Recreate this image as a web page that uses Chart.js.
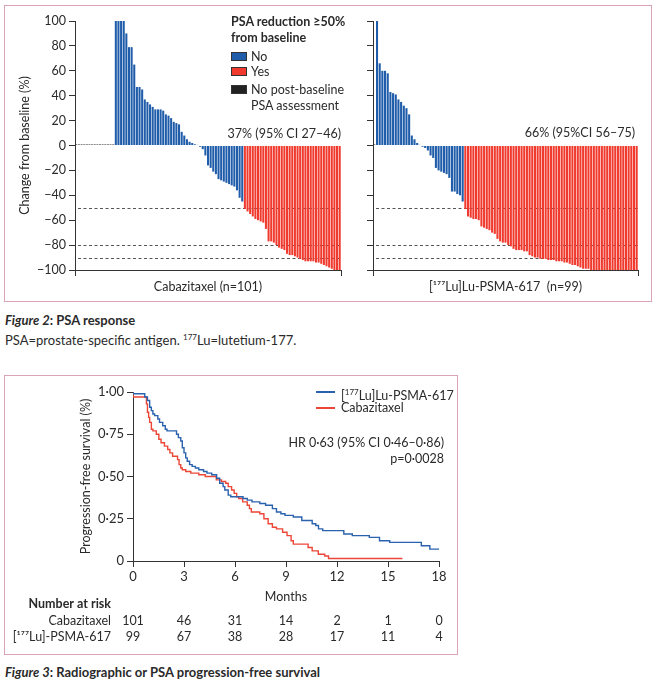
<!DOCTYPE html>
<html>
<head>
<meta charset="utf-8">
<script src="https://cdn.jsdelivr.net/npm/chart.js@4.4.1/dist/chart.umd.min.js"></script>
<style>
  html,body{margin:0;padding:0;background:#fff;}
  body{position:relative;width:658px;height:680px;overflow:hidden;font-family:Lato,"Open Sans",sans-serif;color:#2a2a2a;}
  .box{position:absolute;border:1.5px solid #dba2b8;box-sizing:border-box;}
  .cv{position:absolute;}
  .t{position:absolute;white-space:nowrap;font-size:12.5px;line-height:16px;}
  .b{font-weight:700;}
  .sw{position:absolute;width:16px;height:9px;box-sizing:border-box;border:1px solid #333;}
  .ln{position:absolute;width:19px;height:1.5px;}
  .cap{position:absolute;white-space:nowrap;font-size:13px;line-height:18px;left:5px;}
</style>
</head>
<body>
<!-- ================= DATA ================= -->
<script>
// Figure 2 – waterfall, Cabazitaxel arm (n=101), sorted as plotted
const cabNoAssess = [0.8,0.8,0.8,0.8,0.8,0.8,0.8,0.8,0.8,0.8,0.8,0.8,0.8,0.8,0.8];
const cabNo = [100,100,100,100,90,79,79,65,47,47,45,37,35,33,31,29,29,29,28,25,24,22,19,18,17,11,8,5,3,2,1,0.5,
               -1,-3,-8,-16,-18,-21,-23,-27,-28,-29,-30,-31,-32,-33,-36,-42,-45];
const cabYes = [-51,-53,-55,-57,-59,-60,-61,-62,-67,-77,-77,-78,-80,-82,-83,-84,-87,-88,-88,-89,-90,-91,-92,
                -93,-93,-93,-93,-94,-94,-95,-96,-97,-98,-99,-100,-100,-100];
// Figure 2 – waterfall, [177Lu]Lu-PSMA-617 arm (n=99)
const luNoAssess = [0.8];
const luNo = [100,66,60,60,58,43,42,41,37,35,32,30,25,8,5,2,0.5,
              -1,-2,-4,-8,-10,-18,-20,-21,-22,-23,-26,-37,-37,-39,-40,-45];
const luYes = [-51,-57,-58,-59,-59,-60,-65,-66,-67,-68,-70,-71,-75,-77,-78,-78,-80,-81,-83,-84,-84,-84,-85,-85,
               -88,-89,-90,-90,-91,-91,-91,-92,-92,-92,-93,-93,-93,-94,-94,-95,-96,-96,-97,-98,-99,-99,-99,
               -100,-100,-100,-100,-100,-100,-100,-100,-100,-100,-100,-100,-100,-100,-100,-100,-100,-100];
const thresholdLines = [-50, -80, -90];
const waterfallTicks = [-100,-80,-60,-40,-20,0,20,40,60,80,100];

// Figure 3 – Kaplan-Meier (months, progression-free survival)
const luTime = [0,0.69,0.85,0.98,1.08,1.17,1.27,1.46,1.56,1.75,1.90,2.00,2.56,2.67,2.81,2.90,3.00,3.10,3.19,3.33,3.48,3.67,
                3.87,4.15,4.35,4.63,4.92,5.10,5.30,5.40,5.60,5.75,6.47,6.72,7.00,7.46,7.80,8.20,8.44,8.70,8.94,9.43,9.93,
                10.54,10.75,10.91,11.16,12.40,12.90,13.90,14.50,15.10,16.96,17.46,17.70,18.0];
const luSurv = [1.00,0.99,0.97,0.95,0.91,0.89,0.87,0.86,0.84,0.82,0.80,0.78,0.77,0.75,0.73,0.71,0.67,0.64,0.61,0.59,0.57,0.56,
                0.55,0.54,0.53,0.52,0.51,0.49,0.46,0.44,0.42,0.39,0.38,0.37,0.36,0.35,0.34,0.33,0.31,0.29,0.28,0.27,0.26,
                0.24,0.22,0.21,0.19,0.18,0.16,0.15,0.14,0.12,0.11,0.09,0.07,0.07];
const cabTime = [0,0.79,0.85,0.92,0.98,1.08,1.17,1.37,1.52,1.65,1.85,2.04,2.17,2.33,2.62,2.71,2.81,2.90,3.10,3.40,3.87,4.25,
                 4.90,5.20,5.45,5.60,5.80,5.95,6.10,6.22,6.45,6.72,6.85,6.96,7.46,7.70,7.95,8.20,8.44,8.80,9.06,9.30,9.43,
                 10.30,10.54,10.90,11.28,11.50,12.90,15.85];
const cabSurv = [1.00,0.97,0.93,0.88,0.85,0.82,0.78,0.77,0.75,0.72,0.70,0.68,0.66,0.64,0.62,0.60,0.57,0.55,0.54,0.53,0.52,0.51,
                 0.50,0.48,0.47,0.46,0.44,0.42,0.40,0.38,0.37,0.35,0.33,0.31,0.29,0.28,0.25,0.22,0.20,0.19,0.17,0.15,0.12,
                 0.10,0.08,0.06,0.04,0.03,0.015,0.015];
const riskTimes = [0,3,6,9,12,15,18];
const cabRisk = [101,46,31,14,2,1,0];
const luRisk = [99,67,38,28,17,11,4];
</script>

<div class="box" style="left:4px;top:5px;width:648px;height:297px;"></div>
<canvas id="c1" class="cv" width="343" height="292" style="left:4px;top:5px;"></canvas>
<canvas id="c2" class="cv" width="306" height="292" style="left:345px;top:5px;"></canvas>

<div class="t b" style="left:231px;top:14px;">PSA reduction ≥50%<br>from baseline</div>
<div class="sw" style="left:231px;top:52px;background:#1f5ca9;"></div>
<div class="t" style="left:251px;top:49px;">No</div>
<div class="sw" style="left:231px;top:67px;background:#f03a2e;"></div>
<div class="t" style="left:251px;top:64px;">Yes</div>
<div class="sw" style="left:231px;top:85px;background:#222;"></div>
<div class="t" style="left:251px;top:82px;">No post-baseline<br>PSA assessment</div>
<div class="t" style="right:317px;top:126px;">37% (95% CI 27–46)</div>
<div class="t" style="right:23px;top:125px;">66% (95%CI 56–75)</div>

<div class="cap b" style="top:311px;"><i>Figure 2</i>: PSA response</div>
<div class="cap" style="top:328px;">PSA=prostate-specific antigen. <sup style="font-size:8px">177</sup>Lu=lutetium-177.</div>

<div class="box" style="left:4px;top:375px;width:454px;height:280px;"></div>
<canvas id="c3" class="cv" width="452" height="277" style="left:4px;top:376px;"></canvas>
<div class="ln" style="left:316px;top:391px;background:#2a62ad;"></div>
<div class="t" style="left:341px;top:384px;">[<sup style="font-size:8px">177</sup>Lu]Lu-PSMA-617</div>
<div class="ln" style="left:316px;top:407px;background:#ec4637;"></div>
<div class="t" style="left:341px;top:400px;">Cabazitaxel</div>
<div class="t" style="right:214px;top:435px;">HR 0·63 (95% CI 0·46–0·86)</div>
<div class="t" style="right:214px;top:451px;">p=0·0028</div>

<div class="cap b" style="top:663px;"><i>Figure 3</i>: Radiographic or PSA progression-free survival</div>

<script>
const BLUE = '#1f5ca9', RED = '#f03a2e', BLACK = '#222222';
const TXT = '#2a2a2a', AX = '#333333';
const FONT = {family: 'Lato, "Open Sans", sans-serif', size: 12.5};

function segment(total, offset, vals) {
  const a = new Array(total).fill(null);
  vals.forEach((v, i) => { a[offset + i] = v; });
  return a;
}

const refLines = {
  id: 'refLines',
  beforeDatasetsDraw(chart) {
    const {ctx, chartArea: {left, right}, scales: {y}} = chart;
    ctx.save();
    ctx.setLineDash([3, 2.5]);
    ctx.strokeStyle = '#555';
    ctx.lineWidth = 1;
    thresholdLines.forEach(v => {
      const py = Math.round(y.getPixelForValue(v)) + 0.5;
      ctx.beginPath(); ctx.moveTo(left + 3, py); ctx.lineTo(right, py); ctx.stroke();
    });
    ctx.restore();
  }
};
const endTicks = {
  id: 'endTicks',
  afterDraw(chart) {
    const {ctx, chartArea: {left, right, bottom}} = chart;
    ctx.save();
    ctx.strokeStyle = AX; ctx.lineWidth = 1;
    [left, right].forEach(x => {
      const px = Math.round(x) + 0.5;
      ctx.beginPath(); ctx.moveTo(px, bottom); ctx.lineTo(px, bottom + 6); ctx.stroke();
    });
    ctx.restore();
  }
};

function waterfall(id, noAssess, no, yes, xTitle, showLabels, yWidth, padRight) {
  const n = noAssess.length + no.length + yes.length;
  const labels = Array.from({length: n}, (_, i) => i + 1);
  return new Chart(document.getElementById(id), {
    type: 'bar',
    data: {
      labels,
      datasets: [
        {label: 'No', data: segment(n, noAssess.length, no), backgroundColor: BLUE},
        {label: 'Yes', data: segment(n, noAssess.length + no.length, yes), backgroundColor: RED},
        {label: 'No post-baseline PSA assessment', data: segment(n, 0, noAssess), backgroundColor: BLACK}
      ]
    },
    options: {
      responsive: false, animation: false,
      layout: {padding: {top: 16, right: padRight, left: 0, bottom: 0}},
      plugins: {legend: {display: false}, tooltip: {enabled: false}},
      datasets: {bar: {grouped: false, barPercentage: 0.78, categoryPercentage: 1, borderWidth: 0}},
      scales: {
        x: {
          grid: {display: true, drawOnChartArea: false, drawTicks: false},
          border: {display: true, color: AX, width: 1},
          ticks: {display: false},
          title: {display: true, text: xTitle, color: TXT, font: FONT, padding: {top: 0, bottom: 3}},
          afterFit(s) { s.height = 27; }
        },
        y: {
          min: -100, max: 100,
          afterBuildTicks(s) { s.ticks = waterfallTicks.map(v => ({value: v})); },
          ticks: {
            color: TXT, font: FONT, padding: 3,
            callback: v => showLabels ? (v < 0 ? '\u2212' + Math.abs(v) : String(v)) : ''
          },
          grid: {drawOnChartArea: false, tickLength: 6, color: AX},
          border: {display: true, color: AX, width: 1},
          title: {display: showLabels, text: 'Change from baseline (%)', color: TXT, font: FONT, padding: {top: 13, bottom: 0}},
          afterFit(s) { s.width = yWidth; }
        }
      }
    },
    plugins: [refLines, endTicks]
  });
}

waterfall('c1', cabNoAssess, cabNo, cabYes, 'Cabazitaxel (n=101)', true, 71, 6);
waterfall('c2', luNoAssess, luNo, luYes, '[\u00B9\u2077\u2077Lu]Lu-PSMA-617  (n=99)', false, 28, 13);

// ---------- Figure 3 ----------
const riskTable = {
  id: 'riskTable',
  afterDraw(chart) {
    const {ctx, chartArea: {bottom}, scales: {x}} = chart;
    ctx.save();
    ctx.fillStyle = TXT;
    ctx.textBaseline = 'middle';
    ctx.font = '700 12.5px Lato, "Open Sans", sans-serif';
    ctx.textAlign = 'right';
    ctx.fillText('Number at risk', 107, bottom + 43);
    ctx.font = '12.5px Lato, "Open Sans", sans-serif';
    ctx.fillText('Cabazitaxel', 107, bottom + 60);
    ctx.fillText('[\u00B9\u2077\u2077Lu]-PSMA-617', 107, bottom + 76);
    ctx.textAlign = 'center';
    riskTimes.forEach((t, i) => {
      const px = x.getPixelForValue(t);
      ctx.fillText(String(cabRisk[i]), px, bottom + 60);
      ctx.fillText(String(luRisk[i]), px, bottom + 76);
    });
    ctx.restore();
  }
};

new Chart(document.getElementById('c3'), {
  type: 'line',
  data: {
    datasets: [
      {label: '[\u00B9\u2077\u2077Lu]Lu-PSMA-617', data: luTime.map((t, i) => ({x: t, y: luSurv[i]})),
       borderColor: '#2a62ad', borderWidth: 1.4, stepped: 'after', pointRadius: 0, fill: false},
      {label: 'Cabazitaxel', data: cabTime.map((t, i) => ({x: t, y: cabSurv[i]})),
       borderColor: '#ec4637', borderWidth: 1.4, stepped: 'after', pointRadius: 0, fill: false}
    ]
  },
  options: {
    responsive: false, animation: false,
    layout: {padding: {top: 16, right: 17, left: 66, bottom: 47}},
    plugins: {legend: {display: false}, tooltip: {enabled: false}},
    scales: {
      x: {
        type: 'linear', min: 0, max: 18,
        afterBuildTicks(s) { s.ticks = riskTimes.map(v => ({value: v})); },
        ticks: {color: TXT, font: {family: FONT.family, size: 13}, padding: 2},
        grid: {drawOnChartArea: false, tickLength: 6, color: AX},
        border: {display: true, color: AX, width: 1},
        title: {display: true, text: 'Months', color: TXT, font: FONT, padding: {top: 0, bottom: 2}},
        afterFit(s) { s.height = 45; }
      },
      y: {
        min: 0, max: 1,
        afterBuildTicks(s) { s.ticks = [0, 0.25, 0.5, 0.75, 1].map(v => ({value: v})); },
        ticks: {color: TXT, font: {family: FONT.family, size: 13}, padding: 3,
                callback: v => v === 0 ? '0' : v.toFixed(2).replace('.', '\u00B7')},
        grid: {drawOnChartArea: false, tickLength: 6, color: AX},
        border: {display: true, color: AX, width: 1},
        title: {display: true, text: 'Progression-free survival (%)', color: TXT, font: FONT, padding: {top: 8, bottom: 0}},
        afterFit(s) { s.width = 63; }
      }
    }
  },
  plugins: [riskTable]
});
</script>
</body>
</html>
